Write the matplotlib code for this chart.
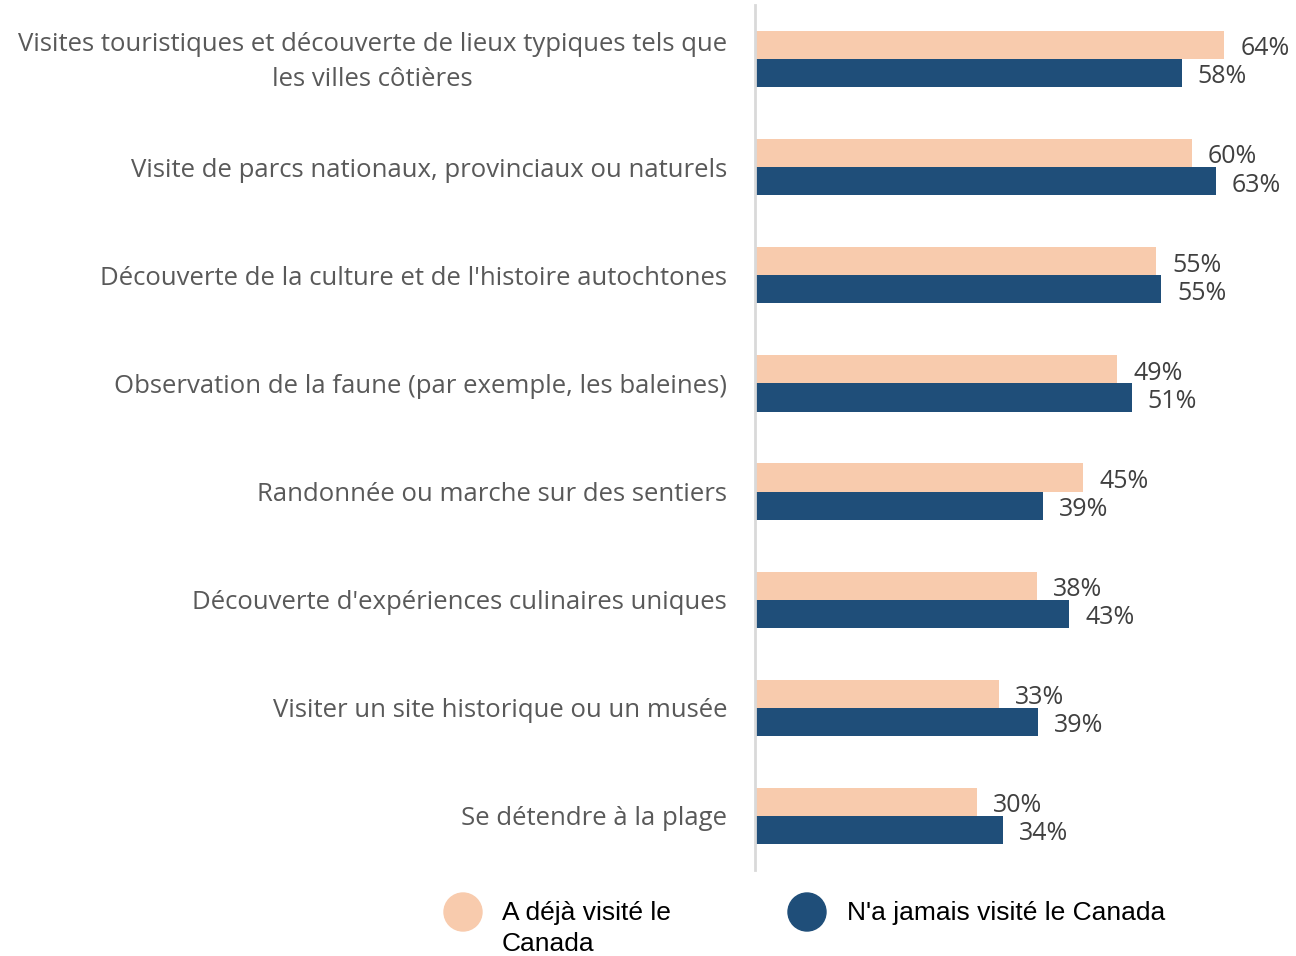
import matplotlib
matplotlib.use("Agg")
import matplotlib.pyplot as plt
import matplotlib.transforms as mtransforms
import numpy as np

# ── Data ──────────────────────────────────────────────────────────────────────
categories = [
    "Visites touristiques et découverte de lieux typiques tels que\nles villes côtières",
    "Visite de parcs nationaux, provinciaux ou naturels",
    "Découverte de la culture et de l'histoire autochtones",
    "Observation de la faune (par exemple, les baleines)",
    "Randonnée ou marche sur des sentiers",
    "Découverte d'expériences culinaires uniques",
    "Visiter un site historique ou un musée",
    "Se détendre à la plage",
]
# values; labels show rounded percentages
deja_visite = [64.0, 59.6, 54.7, 49.4, 44.8, 38.5, 33.3, 30.3]
jamais_visite = [58.2, 62.9, 55.4, 51.4, 39.3, 42.9, 38.6, 33.8]
series_names = ["A déjà visité le\nCanada", "N'a jamais visité le Canada"]

orange = "#F8CBAD"
navy = "#1F4E79"

fig = plt.figure(figsize=(12.96, 9.56), dpi=100)
ax = fig.add_axes([755 / 1296, 1 - 870 / 956, (1290 - 755) / 1296, 865 / 956])

y = np.arange(len(categories))
h = 0.26
b1 = ax.barh(y - h / 2, deja_visite, height=h, color=orange, edgecolor="none")
b2 = ax.barh(y + h / 2, jamais_visite, height=h, color=navy, edgecolor="none")

for bars, vals in [(b1, deja_visite), (b2, jamais_visite)]:
    for bar, v in zip(bars, vals):
        ax.text(bar.get_width() + 2.2, bar.get_y() + bar.get_height() / 2 + 0.035,
                f"{round(v)}%", va="center", ha="left", fontsize=18,
                color="#404040", family="Open Sans")

ax.set_ylim(len(categories) - 0.5, -0.5)
ax.set_xlim(0, 73)
ax.set_yticks(y)
ax.set_yticklabels(categories, fontsize=18.5, color="#595959", family="Open Sans")
for lbl in ax.get_yticklabels():
    lbl.set_multialignment("center")
    lbl.set_linespacing(1.5)
ax.tick_params(axis="y", length=0, pad=20)
first = ax.get_yticklabels()[0]
first.set_transform(first.get_transform() +
                    mtransforms.ScaledTranslation(0, 5 / 100, fig.dpi_scale_trans))
ax.set_xticks([])
for s in ["top", "right", "bottom"]:
    ax.spines[s].set_visible(False)
ax.spines["left"].set_color("#D9D9D9")
ax.spines["left"].set_linewidth(2)

# ── Legend ────────────────────────────────────────────────────────────────────
for (x_c, x_t), name, col in zip([(463, 502), (807, 847)], series_names, [orange, navy]):
    fig.patches.append(matplotlib.patches.Ellipse((x_c / 1296, 1 - 912 / 956), 38 / 1296, 38 / 956,
                                                  transform=fig.transFigure, color=col))
    fig.text(x_t / 1296, 1 - 901 / 956, name, ha="left", va="top", fontsize=19,
             family="Liberation Sans", color="#000000", linespacing=1.36)

fig.savefig("out.png", dpi=100)
